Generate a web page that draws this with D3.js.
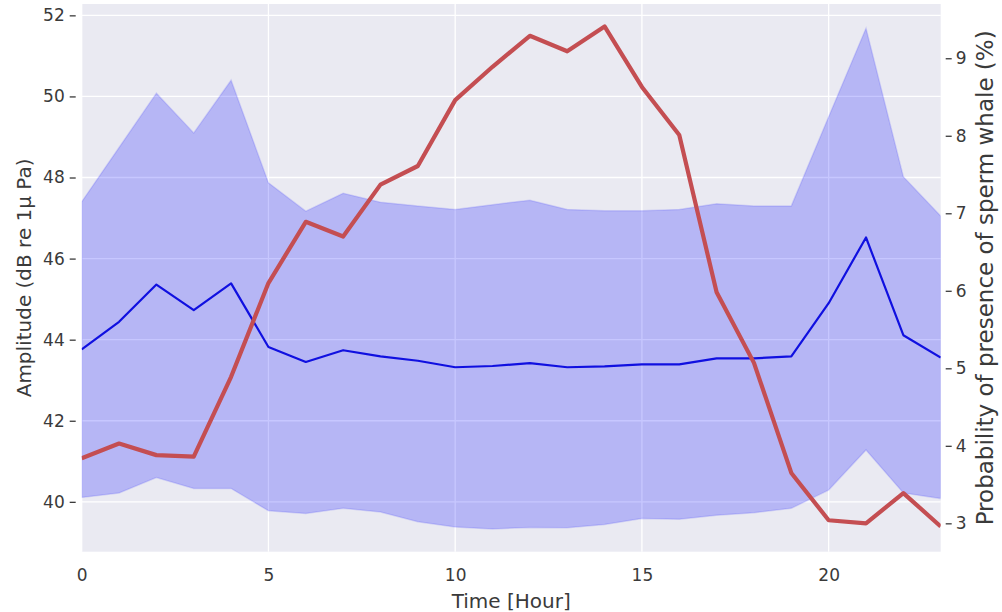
<!DOCTYPE html>
<html>
<head>
<meta charset="utf-8">
<script src="https://cdn.jsdelivr.net/npm/d3@7"></script>
<style>
  body { margin: 0; background: #fff; }
  svg { display: block; }
  text { font-family: "DejaVu Sans", sans-serif; fill: #3a3a3a; }
</style>
</head>
<body>
<svg id="chart" width="1002" height="612"></svg>
<script>
// Hour of day
const hours = [0,1,2,3,4,5,6,7,8,9,10,11,12,13,14,15,16,17,18,19,20,21,22,23];
// Mean amplitude (dB re 1µPa)
const ampMean = [43.76,44.44,45.36,44.73,45.39,43.82,43.45,43.74,43.59,43.48,43.32,43.35,
                 43.42,43.32,43.34,43.39,43.39,43.54,43.54,43.59,44.90,46.52,44.11,43.56];
// Upper bound of amplitude band
const ampUpper = [47.40,48.74,50.08,49.10,50.40,47.87,47.17,47.61,47.39,47.30,47.21,47.33,
                  47.44,47.21,47.18,47.18,47.21,47.35,47.30,47.30,49.50,51.68,48.02,47.05];
// Lower bound of amplitude band
const ampLower = [40.11,40.22,40.60,40.33,40.33,39.78,39.71,39.84,39.75,39.51,39.38,39.33,
                  39.37,39.36,39.44,39.59,39.57,39.67,39.73,39.84,40.29,41.28,40.22,40.08];
// Probability of sperm whale presence (%)
const presence = [3.84,4.03,3.88,3.86,4.89,6.10,6.89,6.70,7.37,7.61,8.46,8.89,
                  9.29,9.09,9.41,8.63,8.01,5.98,5.07,3.65,3.04,3.00,3.39,2.96];

const xTicks = [0,5,10,15,20];
const leftTicks = [40,42,44,46,48,50,52];
const rightTicks = [3,4,5,6,7,8,9];

const svg = d3.select("#chart");
const plot = { left: 81.7, right: 940.7, top: 4, bottom: 551.7 };

const x = d3.scaleLinear().domain([0, 23]).range([plot.left, plot.right]);
const yL = d3.scaleLinear().domain([38.77, 52.28]).range([plot.bottom, plot.top]);
const yR = d3.scaleLinear().domain([2.634, 9.70]).range([plot.bottom, plot.top]);

// Background panel
svg.append("rect")
  .attr("x", plot.left).attr("y", plot.top)
  .attr("width", plot.right - plot.left).attr("height", plot.bottom - plot.top)
  .attr("fill", "#eaeaf2");

// Grid
const grid = svg.append("g").attr("stroke", "#fff").attr("stroke-width", 1.3);
grid.selectAll("line.v").data(xTicks).join("line")
  .attr("x1", d => x(d)).attr("x2", d => x(d))
  .attr("y1", plot.top).attr("y2", plot.bottom);
grid.selectAll("line.h").data(leftTicks).join("line")
  .attr("x1", plot.left).attr("x2", plot.right)
  .attr("y1", d => yL(d)).attr("y2", d => yL(d));

svg.append("clipPath").attr("id", "plotclip")
  .append("rect")
  .attr("x", plot.left).attr("y", plot.top)
  .attr("width", plot.right - plot.left).attr("height", plot.bottom - plot.top);

const body = svg.append("g").attr("clip-path", "url(#plotclip)");

// Amplitude band
const band = d3.area()
  .x((d, i) => x(hours[i]))
  .y0((d, i) => yL(ampLower[i]))
  .y1((d, i) => yL(ampUpper[i]));
body.append("path")
  .datum(hours)
  .attr("d", band)
  .attr("fill", "#0000ff")
  .attr("fill-opacity", 0.22)
  .attr("stroke", "#0000ff")
  .attr("stroke-opacity", 0.12)
  .attr("stroke-width", 1.5);

// Mean amplitude line
body.append("path")
  .datum(hours)
  .attr("d", d3.line().x((d, i) => x(hours[i])).y((d, i) => yL(ampMean[i])))
  .attr("fill", "none")
  .attr("stroke", "#1010e0")
  .attr("stroke-width", 2.2)
  .attr("stroke-linejoin", "round");

// Presence probability line
body.append("path")
  .datum(hours)
  .attr("d", d3.line().x((d, i) => x(hours[i])).y((d, i) => yR(presence[i])))
  .attr("fill", "none")
  .attr("stroke", "#c44e52")
  .attr("stroke-width", 4.2)
  .attr("stroke-linejoin", "round");

// Axes
const tickFont = "17px";
const xAxis = svg.append("g")
  .attr("transform", `translate(0,${plot.bottom})`)
  .call(d3.axisBottom(x).tickValues(xTicks).tickFormat(d3.format("d")).tickSize(0).tickPadding(17));
const yAxisL = svg.append("g")
  .attr("transform", `translate(${plot.left},0)`)
  .call(d3.axisLeft(yL).tickValues(leftTicks).tickFormat(d3.format("d")));
const yAxisR = svg.append("g")
  .attr("transform", `translate(${plot.right},0)`)
  .call(d3.axisRight(yR).tickValues(rightTicks).tickFormat(d3.format("d")));

[xAxis, yAxisL, yAxisR].forEach(g => {
  g.select(".domain").remove();
  g.selectAll("text").style("font-size", tickFont).attr("fill", "#3a3a3a");
  g.selectAll("line").attr("stroke", "#3a3a3a").attr("stroke-width", 1.3);
});
yAxisL.selectAll("line").attr("x1", -12).attr("x2", -6);
yAxisL.selectAll("text").attr("x", -17);
yAxisR.selectAll("line").attr("x1", 5).attr("x2", 11);
yAxisR.selectAll("text").attr("x", 15);

// Axis titles
svg.append("text")
  .attr("x", (plot.left + plot.right) / 2).attr("y", 608)
  .attr("text-anchor", "middle")
  .style("font-size", "20px")
  .text("Time [Hour]");

svg.append("text")
  .attr("transform", `translate(31,${(plot.top + plot.bottom) / 2}) rotate(-90)`)
  .attr("text-anchor", "middle")
  .style("font-size", "20px")
  .text("Amplitude (dB re 1µ Pa)");

svg.append("text")
  .attr("transform", `translate(993,${(plot.top + plot.bottom) / 2}) rotate(-90)`)
  .attr("text-anchor", "middle")
  .style("font-size", "23px")
  .text("Probability of presence of sperm whale (%)");
</script>
</body>
</html>
